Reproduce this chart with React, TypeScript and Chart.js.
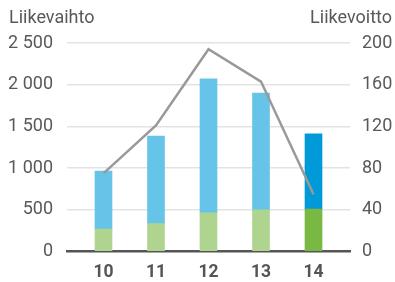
import React, { useEffect, useRef } from "react";
import { Chart, registerables } from "chart.js";

Chart.register(...registerables);

const categories = [10, 11, 12, 13, 14];
const greenValues = [270, 335, 465, 500, 510];
const blueValues = [695, 1050, 1605, 1400, 900];
const profitValues = [75, 121, 194, 163, 55];
const leftTicks = [0, 500, 1000, 1500, 2000, 2500];
const rightTicks = [0, 40, 80, 120, 160, 200];
const leftTitle = "Liikevaihto";
const rightTitle = "Liikevoitto";

const blueColors = ["#66C4E8", "#66C4E8", "#66C4E8", "#66C4E8", "#009AD9"];
const greenColors = ["#AFD490", "#AFD490", "#AFD490", "#AFD490", "#78B843"];

const fmt = (v: number) => {
  const s = String(Math.round(v));
  return s.replace(/\B(?=(\d{3})+(?!\d))/g, " ");
};

export default function App() {
  const ref = useRef<HTMLCanvasElement | null>(null);
  useEffect(() => {
    if (!ref.current) return;
    const titles = {
      id: "titles",
      afterDraw(chart: any) {
        const ctx = chart.ctx;
        ctx.save();
        ctx.fillStyle = "#595959";
        ctx.font = "18px Roboto";
        ctx.textBaseline = "alphabetic";
        ctx.textAlign = "left";
        ctx.fillText(leftTitle, 9, 23);
        ctx.textAlign = "right";
        ctx.fillText(rightTitle, 392, 23);
        ctx.restore();
      },
    };
    const chart = new Chart(ref.current, {
      type: "bar",
      data: {
        datasets: [
          {
            type: "line",
            data: categories.map((c, i) => ({ x: c, y: profitValues[i] })),
            yAxisID: "y2",
            borderColor: "#999999",
            borderWidth: 2.5,
            pointRadius: 0,
            tension: 0,
            fill: false,
            order: 0,
          } as any,
          {
            data: categories.map((c, i) => ({ x: c, y: greenValues[i] })),
            backgroundColor: greenColors,
            stack: "s",
            yAxisID: "y",
            barThickness: 17,
            order: 1,
          },
          {
            data: categories.map((c, i) => ({ x: c, y: blueValues[i] })),
            backgroundColor: blueColors,
            stack: "s",
            yAxisID: "y",
            barThickness: 17,
            order: 2,
          },
        ],
      },
      options: {
        animation: false,
        responsive: false,
        devicePixelRatio: 1,
        layout: { padding: { top: 43, left: 0, right: 0, bottom: 0 } },
        plugins: { legend: { display: false }, tooltip: { enabled: false } },
        scales: {
          x: {
            type: "linear",
            offset: false,
            min: 9.305,
            max: 14.695,
            afterBuildTicks: (axis: any) => {
              axis.ticks = categories.map((v) => ({ value: v }));
            },
            afterFit: (axis: any) => {
              axis.height = 30.5;
            },
            grid: { display: false, drawTicks: false },
            border: { display: true, color: "#555555", width: 2.5 },
            ticks: {
              padding: 11,
              color: "#555555",
              font: { family: "Roboto", size: 17.5, weight: "bold" },
              callback: (v: any) => String(v),
            },
          },
          y: {
            position: "left",
            stacked: true,
            min: 0,
            max: 2500,
            afterBuildTicks: (axis: any) => {
              axis.ticks = leftTicks.map((v) => ({ value: v }));
            },
            afterFit: (axis: any) => {
              axis.width = 67;
            },
            grid: {
              drawTicks: false,
              color: (c: any) => (c.tick && c.tick.value === 0 ? "rgba(0,0,0,0)" : "#E3E3E3"),
              lineWidth: 1.5,
            },
            border: { display: false },
            ticks: {
              padding: 14,
              color: "#595959",
              font: { family: "Roboto", size: 18 },
              callback: (v: any) => fmt(Number(v)),
            },
          },
          y2: {
            position: "right",
            min: 0,
            max: 200,
            afterBuildTicks: (axis: any) => {
              axis.ticks = rightTicks.map((v) => ({ value: v }));
            },
            afterFit: (axis: any) => {
              axis.width = 45;
            },
            grid: { display: false, drawTicks: false },
            border: { display: false },
            ticks: {
              padding: 12,
              color: "#595959",
              font: { family: "Roboto", size: 18 },
              callback: (v: any) => String(v),
            },
          },
        },
      },
      plugins: [titles],
    } as any);
    return () => chart.destroy();
  }, []);
  return (
    <div style={{ position: "absolute", left: 0, top: 0, width: 395, height: 282, background: "#fff" }}>
      <canvas ref={ref} width={395} height={282} style={{ display: "block" }} />
    </div>
  );
}
